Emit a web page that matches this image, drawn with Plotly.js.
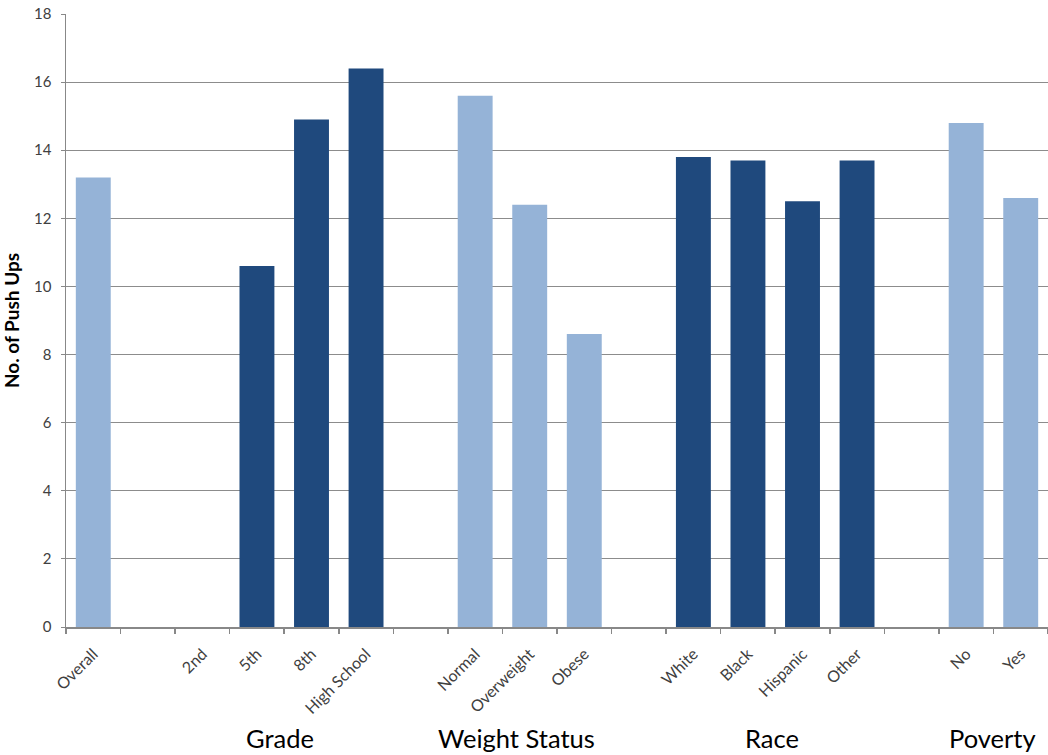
<!DOCTYPE html>
<html>
<head>
<meta charset="utf-8">
<script src="https://cdn.plot.ly/plotly-3.0.1.min.js"></script>
<style>html,body{margin:0;padding:0;background:#fff;}#chart{width:1048px;height:755px;}</style>
</head>
<body>
<div id="chart"></div>
<script>
// Data
const categories = ['Overall', '', '2nd', '5th', '8th', 'High School', '', 'Normal', 'Overweight', 'Obese', '', 'White', 'Black', 'Hispanic', 'Other', '', 'No', 'Yes'];
const pushUps = [13.2, null, null, 10.6, 14.9, 16.4, null, 15.6, 12.4, 8.6, null, 13.8, 13.7, 12.5, 13.7, null, 14.8, 12.6];
const shade = ['light', null, 'dark', 'dark', 'dark', 'dark', null, 'light', 'light', 'light', null, 'dark', 'dark', 'dark', 'dark', null, 'light', 'light'];
const groupLabels = ['Grade', 'Weight Status', 'Race', 'Poverty'];
const groupLabelPos = [3.43, 7.75, 12.44, 16.48];
const yTicks = [0, 2, 4, 6, 8, 10, 12, 14, 16, 18];

const colorMap = {light: '#95B3D7', dark: '#1F497D'};
const FONT = 'Lato, "Open Sans", "Liberation Sans", sans-serif';
const xIdx = categories.map((_, i) => i);

const trace = {
  type: 'bar',
  x: xIdx,
  y: pushUps,
  width: 0.64,
  marker: {color: shade.map(s => s ? colorMap[s] : '#ffffff'), line: {width: 0}},
  hoverinfo: 'x+y'
};

const layout = {
  width: 1048, height: 755,
  margin: {l: 66, r: 0, t: 14, b: 128},
  paper_bgcolor: '#ffffff', plot_bgcolor: '#ffffff',
  showlegend: false,
  font: {family: FONT, color: '#404040'},
  xaxis: {
    range: [-0.5, 17.5],
    tickmode: 'array',
    tickvals: xIdx,
    ticktext: categories,
    tickangle: -45,
    ticks: '',
    ticklabelstandoff: 10,
    tickfont: {size: 16, color: '#404040', family: FONT},
    showgrid: false,
    zeroline: false,
    showline: true, linecolor: '#888888', linewidth: 1.5,
    minor: {tick0: -0.5, dtick: 1, ticks: 'outside', ticklen: 5, tickcolor: '#888888', tickwidth: 1.5, showgrid: false},
    fixedrange: true
  },
  yaxis: {
    range: [0, 18],
    tickmode: 'array',
    tickvals: yTicks,
    ticks: 'outside', ticklen: 4, tickcolor: '#888888',
    ticklabelstandoff: 6,
    tickfont: {size: 15, color: '#404040', family: FONT},
    showgrid: true, gridcolor: '#8c8c8c', gridwidth: 1,
    zeroline: false,
    showline: true, linecolor: '#888888', linewidth: 1.5,
    title: {text: '<b>No. of Push Ups</b>', font: {size: 19, color: '#000000', family: FONT}, standoff: 10},
    fixedrange: true
  },
  annotations: groupLabels.map((t, i) => ({
    text: t, x: groupLabelPos[i], xref: 'x', y: -0.181, yref: 'paper',
    xanchor: 'center', yanchor: 'middle', showarrow: false,
    font: {size: 25.5, color: '#000000', family: FONT}
  }))
};

Plotly.newPlot('chart', [trace], layout, {staticPlot: true, displayModeBar: false});
</script>
</body>
</html>
